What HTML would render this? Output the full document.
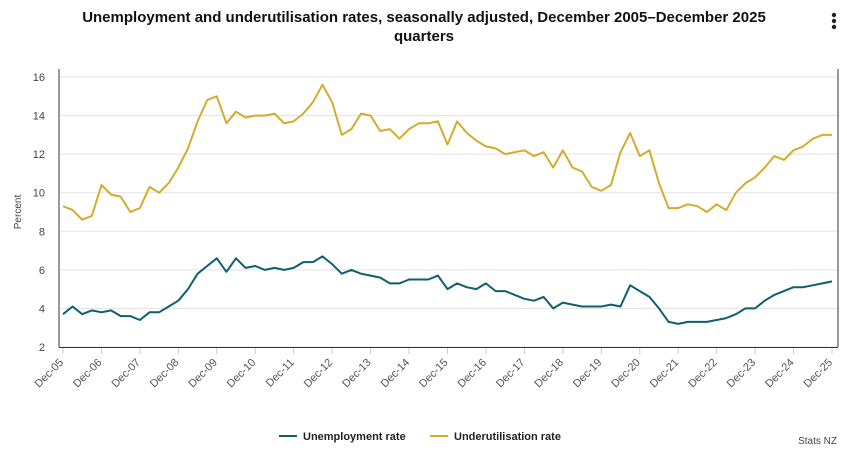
<!DOCTYPE html>
<html><head><meta charset="utf-8"><style>
body{margin:0;background:#fff;font-family:"Liberation Sans",sans-serif;}
#wrap{position:relative;width:847px;height:450px;overflow:hidden;}
</style></head><body>
<div id="wrap">
<svg id="chart" width="847" height="450"></svg>
</div>
<script>
const years=[];
for(let y=2005;y<=2025;y++)years.push(y);
const unemployment=[3.7,
4.1,3.7,3.9,3.8, 3.9,3.6,3.6,3.4, 3.8,3.8,4.1,4.4, 5.0,5.8,6.2,6.6,
5.9,6.6,6.1,6.2, 6.0,6.1,6.0,6.1, 6.4,6.4,6.7,6.3, 5.8,6.0,5.8,5.7,
5.6,5.3,5.3,5.5, 5.5,5.5,5.7,5.0, 5.3,5.1,5.0,5.3, 4.9,4.9,4.7,4.5,
4.4,4.6,4.0,4.3, 4.2,4.1,4.1,4.1, 4.2,4.1,5.2,4.9, 4.6,4.0,3.3,3.2,
3.3,3.3,3.3,3.4, 3.5,3.7,4.0,4.0, 4.4,4.7,4.9,5.1, 5.1,5.2,5.3,5.4];
const underutilisation=[9.3,
9.1,8.6,8.8,10.4, 9.9,9.8,9.0,9.2, 10.3,10.0,10.5,11.3, 12.3,13.7,14.8,15.0,
13.6,14.2,13.9,14.0, 14.0,14.1,13.6,13.7, 14.1,14.7,15.6,14.7, 13.0,13.3,14.1,14.0,
13.2,13.3,12.8,13.3, 13.6,13.6,13.7,12.5, 13.7,13.1,12.7,12.4, 12.3,12.0,12.1,12.2,
11.9,12.1,11.3,12.2, 11.3,11.1,10.3,10.1, 10.4,12.1,13.1,11.9, 12.2,10.5,9.2,9.2,
9.4,9.3,9.0,9.4, 9.1,10.0,10.5,10.8, 11.3,11.9,11.7,12.2, 12.4,12.8,13.0,13.0];
const yTicks=[2,4,6,8,10,12,14,16];
const xTickLabels=years.map(y=>"Dec-"+String(y).slice(2));

const NS="http://www.w3.org/2000/svg";
const svg=document.getElementById('chart');
const L=63,R=832,T=77,B=347,yMin=2,yMax=16;
const n=unemployment.length;
const xs=i=>L+(R-L)*i/(n-1);
const ys=v=>B-(v-yMin)/(yMax-yMin)*(B-T);
function mk(tag,attrs,parent){const e=document.createElementNS(NS,tag);for(const k in attrs)e.setAttribute(k,attrs[k]);(parent||svg).appendChild(e);return e;}

let t=mk('text',{x:424,y:22,'text-anchor':'middle','font-size':15,'font-weight':'bold',fill:'#111'});
t.textContent="Unemployment and underutilisation rates, seasonally adjusted, December 2005\u2013December 2025";


t=mk('text',{x:424,y:41,'text-anchor':'middle','font-size':15,'font-weight':'bold',fill:'#111'});
t.textContent="quarters";



const menu=mk('g',{});


[15,21,27].forEach(cy=>mk('circle',{cx:834,cy:cy,r:2.2,fill:'#222'},menu));

const grid=mk('g',{});


yTicks.forEach(v=>{
  mk('line',{x1:L-3,x2:838,y1:ys(v),y2:ys(v),stroke:'#e3e3e3','stroke-width':1},grid);
  const tl=mk('text',{x:45,y:ys(v)+4,'text-anchor':'end','font-size':11,fill:'#444'});
  tl.textContent=v;
  
  
});
mk('line',{x1:59,x2:59,y1:T-8,y2:B,stroke:'#333','stroke-width':1});
mk('line',{x1:838,x2:838,y1:T-8,y2:B,stroke:'#333','stroke-width':1});
mk('line',{x1:59,x2:838,y1:B+0.5,y2:B+0.5,stroke:'#333','stroke-width':1});
t=mk('text',{x:21,y:212,'text-anchor':'middle','font-size':10,fill:'#444',transform:'rotate(-90 21 212)'});
t.textContent="Percent";



years.forEach((y,k)=>{
  const x=xs(k*4);
  mk('line',{x1:x,x2:x,y1:B+1,y2:B+7,stroke:'#ccc'});
  const tl=mk('text',{x:x+1,y:B+16,'text-anchor':'end','font-size':11,fill:'#555',transform:`rotate(-45 ${x+1} ${B+16})`});
  tl.textContent=xTickLabels[k];
  
  
});

function line(data,color,name){
  const p=mk('path',{d:data.map((v,i)=>(i?'L':'M')+xs(i).toFixed(1)+' '+ys(v).toFixed(1)).join(''),fill:'none',stroke:color,'stroke-width':2,'stroke-linejoin':'round'});
  
  
}
line(underutilisation,'#d4ab2e','underutilisation-line');
line(unemployment,'#0f5e72','unemployment-line');

function legend(x,color,label,name){
  const g=mk('g',{});
  
  
  mk('line',{x1:x,x2:x+18,y1:436,y2:436,stroke:color,'stroke-width':2},g);
  const tl=mk('text',{x:x+24,y:440,'font-size':11,'font-weight':'bold',fill:'#222'},g);
  tl.textContent=label;
}
legend(279,'#0f5e72','Unemployment rate','legend-unemployment');
legend(430,'#d4ab2e','Underutilisation rate','legend-underutilisation');
t=mk('text',{x:837,y:444,'text-anchor':'end','font-size':10,fill:'#444'});
t.textContent="Stats NZ";


</script>
</body></html>
